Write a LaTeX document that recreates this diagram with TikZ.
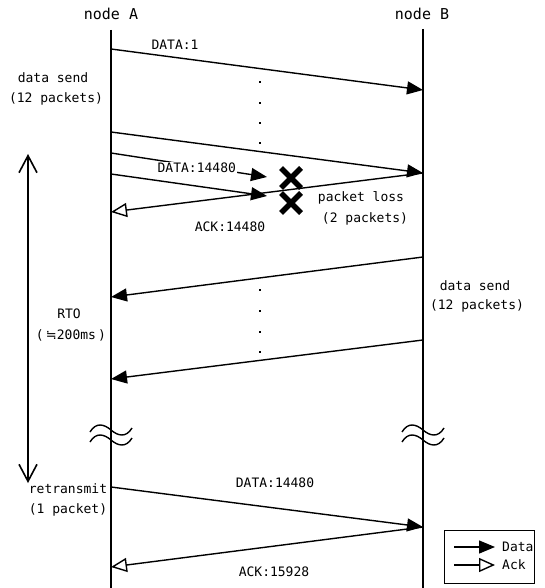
\documentclass[tikz,border=0pt]{standalone}
\usepackage{fontspec}
\usetikzlibrary{arrows.meta}
\newfontfamily\monofont{DejaVu Sans Mono}
\newfontfamily\symfont{DejaVu Sans}
\begin{document}
\begin{tikzpicture}[x=1pt,y=-1pt,
  life/.style={line width=1.6pt},
  msg/.style={line width=1.4pt,-{Triangle[length=16pt,width=13pt]}},
  ackmsg/.style={line width=1.4pt,-{Triangle[open,length=16pt,width=14pt,fill=white]}},
  lbl/.style={font=\monofont\fontsize{13}{13}\selectfont, inner sep=0pt},
  ttl/.style={font=\monofont\fontsize{15}{15}\selectfont, inner sep=0pt},
  dotmark/.style={fill=black},
  lossx/.style={line width=5.5pt},
  wavestroke/.style={line width=1.4pt},
  rtoarrow/.style={line width=1.6pt,{Straight Barb[length=17pt,width=18pt]}-{Straight Barb[length=17pt,width=18pt]}},
  legendbox/.style={draw,line width=1pt}
]
\useasboundingbox (0,0) rectangle (544,588);

% lifelines
\node[ttl] (nA) at (111,14) {node A};
\node[ttl] (nB) at (422,14) {node B};
\coordinate (Atop) at (111,30);
\coordinate (Abot) at (111,588);
\coordinate (Btop) at (423,29);
\coordinate (Bbot) at (423,588);
\draw[life] (Atop) -- (Abot);
\draw[life] (Btop) -- (Bbot);

% first burst
\coordinate (s1) at (111,49);
\coordinate (e1) at (423,90);
\draw[msg] (s1) -- (e1);
\node[lbl] (l1) at (175,45) {DATA:1};
\foreach \y in {82,103,123,143} \fill[dotmark] (259,\y-1) rectangle (261,\y+1);

\coordinate (s2) at (111,132);
\coordinate (e2) at (423,173);
\draw[msg] (s2) -- (e2);

\coordinate (s3) at (111,153);
\coordinate (e3) at (267,177);
\draw[msg] (s3) -- (e3) node[lbl,pos=0.55,fill=white,inner sep=1.5pt,yshift=-2pt] (l3) {DATA:14480};

\coordinate (s4) at (111,174);
\coordinate (e4) at (267,196);
\draw[msg] (s4) -- (e4);

% ack
\coordinate (ack1s) at (423,173);
\coordinate (ack1e) at (111,212);
\draw[ackmsg] (ack1s) -- (ack1e);
\node[lbl] (lack1) at (230,227) {ACK:14480};

% losses
\foreach \cy in {178,203} {
  \draw[lossx] (281,\cy-10) -- (301,\cy+10);
  \draw[lossx] (281,\cy+10) -- (301,\cy-10);
}
\node[lbl] (loss1) at (361,198) {packet loss};
\node[lbl] (loss2) at (365,219) {(2 packets)};

% left labels
\node[lbl] (ds1) at (53,78) {data send};
\node[lbl] (ds2) at (56,99) {(12 packets)};

% second burst from B
\node[lbl] (ds3) at (475,286) {data send};
\node[lbl] (ds4) at (477,306) {(12 packets)};
\coordinate (s6) at (423,257);
\coordinate (e6) at (111,297);
\draw[msg] (s6) -- (e6);
\foreach \y in {290,311,332,352} \fill[dotmark] (259,\y-1) rectangle (261,\y+1);
\coordinate (s7) at (423,340);
\coordinate (e7) at (111,379);
\draw[msg] (s7) -- (e7);

% RTO
\coordinate (rtotop) at (28,154);
\coordinate (rtobot) at (28,483);
\draw[rtoarrow] (rtotop) -- (rtobot);
\node[lbl] (rto1) at (69,314) {RTO};
\node[lbl] (rto2) at (71,335) {(\,{\symfont ≒}200ms\,)};

% breaks
\foreach \cx in {111,423} {
  \foreach \cy in {430,440} {
    \draw[wavestroke] (\cx-21,\cy+2) .. controls (\cx-15,\cy-8) and (\cx-7,\cy-6) .. (\cx,\cy) .. controls (\cx+7,\cy+6) and (\cx+15,\cy+8) .. (\cx+21,\cy-2);
  }
}

% retransmit
\node[lbl] (rt1) at (68,489) {retransmit};
\node[lbl] (rt2) at (68,510) {(1 packet)};
\coordinate (s8) at (111,487);
\coordinate (e8) at (423,527);
\draw[msg] (s8) -- (e8);
\node[lbl] (l8) at (275,483) {DATA:14480};
\coordinate (s9) at (423,527);
\coordinate (e9) at (111,567);
\draw[ackmsg] (s9) -- (e9);
\node[lbl] (l9) at (274,572) {ACK:15928};

% legend
\coordinate (lgA) at (444,530);
\coordinate (lgB) at (534,583);
\draw[legendbox] (lgA) rectangle (lgB);
\coordinate (ld1) at (454,547);
\coordinate (ld2) at (495,547);
\coordinate (la1) at (454,565);
\coordinate (la2) at (495,565);
\draw[msg] (ld1) -- (ld2);
\draw[ackmsg] (la1) -- (la2);
\node[lbl,anchor=west] (lgd) at (502,547) {Data};
\node[lbl,anchor=west] (lga) at (502,565) {Ack};
\end{tikzpicture}
\end{document}
